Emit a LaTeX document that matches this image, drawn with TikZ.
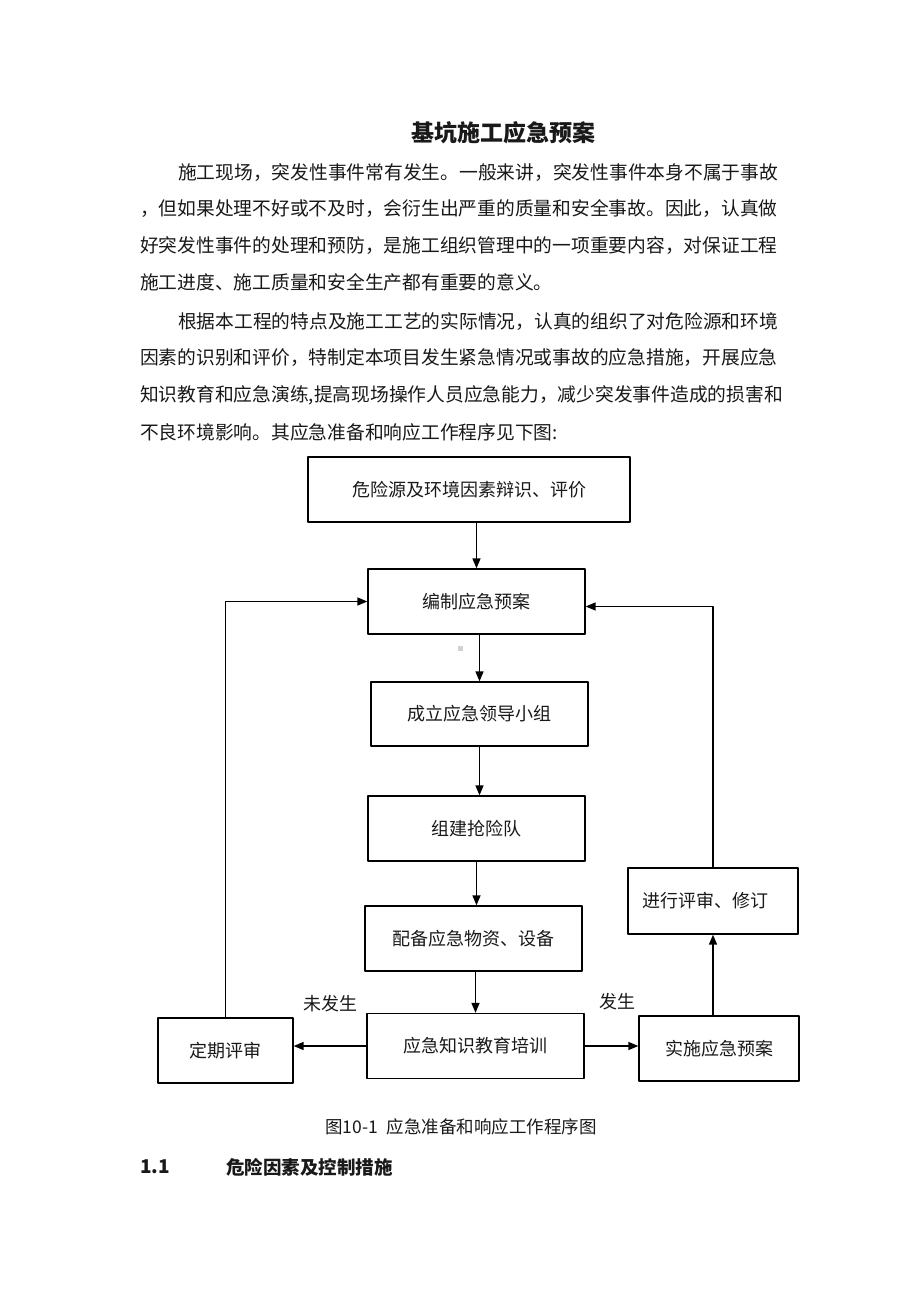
\documentclass[tikz,border=0pt]{standalone}
\usepackage{fontspec}
\setmainfont{Noto Sans CJK SC}
\usepackage{tikz}
\usetikzlibrary{calc}
\usetikzlibrary{arrows.meta}
\definecolor{txtgray}{rgb}{0.1,0.1,0.1}
\tikzstyle{every node}=[font=\fontsize{18}{18}\selectfont, inner sep=0pt, text=txtgray]
\tikzset{
  box/.style={draw, line width=1.3pt, minimum width=#1, minimum height=65pt},
  para/.style={anchor=west, font=\fontsize{18.75}{18.75}\selectfont},
  link/.style={->, line width=1.5pt}
}

\begin{document}
\begin{tikzpicture}[line cap=round,line join=round,>={Triangle[length=10pt,width=8pt]},x=1pt,y=-1pt]
            \fill[white] (0,0) rectangle (920,1302);
            \useasboundingbox (0,0) rectangle (920,1302);
            % title and text
            \node[font=\bfseries\fontsize{23}{23}\selectfont] (title) at (503,133) {基坑施工应急预案};
            \node[para] (pa1) at (178,172.5) {施工现场，突发性事件常有发生。一般来讲，突发性事件本身不属于事故};
            \node[para] (pa2) at (140,209) {，但如果处理不好或不及时，会衍生出严重的质量和安全事故。因此，认真做};
            \node[para] (pa3) at (140,246) {好突发性事件的处理和预防，是施工组织管理中的一项重要内容，对保证工程};
            \node[para] (pa4) at (140,282) {施工进度、施工质量和安全生产都有重要的意义。};
            \node[para] (pb1) at (178,322) {根据本工程的特点及施工工艺的实际情况，认真的组织了对危险源和环境};
            \node[para] (pb2) at (140,358) {因素的识别和评价，特制定本项目发生紧急情况或事故的应急措施，开展应急};
            \node[para] (pb3) at (140,395) {知识教育和应急演练,提高现场操作人员应急能力，减少突发事件造成的损害和};
            \node[para] (pb4) at (140,432) {不良环境影响。其应急准备和响应工作程序见下图:};
            % boxes
            \node[box=322pt] (hazard) at (469,489.5) {危险源及环境因素辩识、评价};
            \node[box=217pt] (plan) at (476.5,601.5) {编制应急预案};
            \node[box=217pt, minimum height=64pt] (leader) at (479.5,714) {成立应急领导小组};
            \node[box=217pt] (team) at (476.5,828.5) {组建抢险队};
            \node[box=217pt] (supply) at (473.5,938.5) {配备应急物资、设备};
            \node[box=217pt] (train) at (475.5,1046) {应急知识教育培训};
            \node[box=135pt] (review) at (225.5,1050.5) {定期评审};
            \node[box=160pt] (act) at (719,1048.5) {实施应急预案};
            \node[box=170pt, minimum height=66pt] (revise) at (713,901) {};
            \node (revtxt) at (705,901) {进行评审、修订};
            \fill[gray!35] (458,646) rectangle (463,651);
            % arrows
            \draw [link] (plan.north |- hazard.south) -- (plan.north);
            \draw [link] (leader.north |- plan.south) -- (leader.north);
            \draw [link] (leader.south) -- (leader.south |- team.north);
            \draw [link] (team.south) -- (team.south |- supply.north);
            \draw [link] (train.north |- supply.south) -- (train.north);
            \draw [link] (train.west) -- (train.west -| review.east);
            \draw [link] (train.east) -- (train.east -| act.west);
            \draw [link] (revise.south |- act.north) -- (revise.south);
            \draw [link] (review.north) |- (plan.west);
            \draw [link] (revise.north) |- ([yshift=-5pt]plan.east);
            \node (nohap) at (330,1004) {未发生};
            \node (hap) at (617,1002) {发生};
            % caption and heading
            \node[font=\fontsize{17.5}{17.5}\selectfont] (cap) at (461,1127) {图10-1\hspace{9pt}应急准备和响应工作程序图};
            \node[anchor=west, font=\bfseries\fontsize{19}{19}\selectfont] (headnum) at (140,1167) {1.1};
            \node[anchor=west, font=\bfseries\fontsize{18.5}{18.5}\selectfont] (head) at (226,1167) {危险因素及控制措施};
\end{tikzpicture}
\end{document}
